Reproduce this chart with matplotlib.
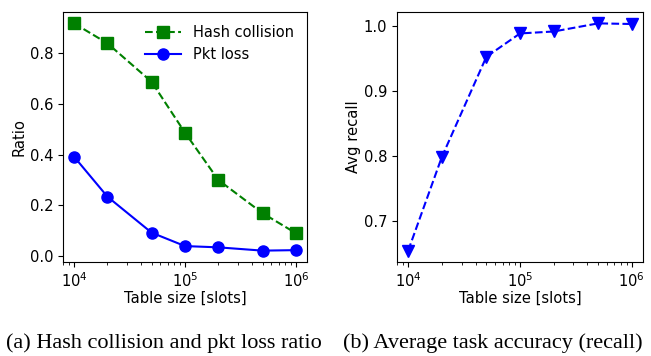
import numpy as np
import matplotlib.pyplot as plt

sizes = [1e4, 2e4, 5e4, 1e5, 2e5, 5e5, 1e6]
hash_coll = [0.919, 0.84, 0.688, 0.487, 0.300, 0.169, 0.090]
pkt_loss = [0.392, 0.234, 0.092, 0.039, 0.034, 0.021, 0.023]
recall = [0.654, 0.798, 0.952, 0.988, 0.991, 1.0035, 1.0025]

plt.rcParams['font.family'] = 'DejaVu Sans'
plt.rcParams['font.size'] = 10.6

fig = plt.figure(figsize=(6.51, 3.56), dpi=100)

ax1 = fig.add_axes([63/651, 94/356, 244/651, 250/356])
ax1.plot(sizes, hash_coll, 's--', color='green', markersize=8.5, label='Hash collision')
ax1.plot(sizes, pkt_loss, 'o-', color='blue', markersize=8, label='Pkt loss')
ax1.set_xscale('log')
ax1.set_yticks([0.0, 0.2, 0.4, 0.6, 0.8])
ax1.set_ylabel('Ratio', labelpad=2)
ax1.set_xlabel('Table size [slots]', labelpad=0)
ax1.legend(loc='upper right', frameon=False, fontsize=10.5, handlelength=2.5)

ax2 = fig.add_axes([397/651, 94/356, 246/651, 250/356])
ax2.plot(sizes, recall, 'v--', color='blue', markersize=9)
ax2.set_xscale('log')
ax2.set_yticks([0.7, 0.8, 0.9, 1.0])
ax2.set_ylabel('Avg recall', labelpad=2)
ax2.set_xlabel('Table size [slots]', labelpad=0)

fig.text(164/651, 1 - 343/356, '(a) Hash collision and pkt loss ratio',
         ha='center', va='center', family='Liberation Serif', fontsize=16)
fig.text(493/651, 1 - 343/356, '(b) Average task accuracy (recall)',
         ha='center', va='center', family='Liberation Serif', fontsize=16)

fig.savefig('out.png', dpi=100)
